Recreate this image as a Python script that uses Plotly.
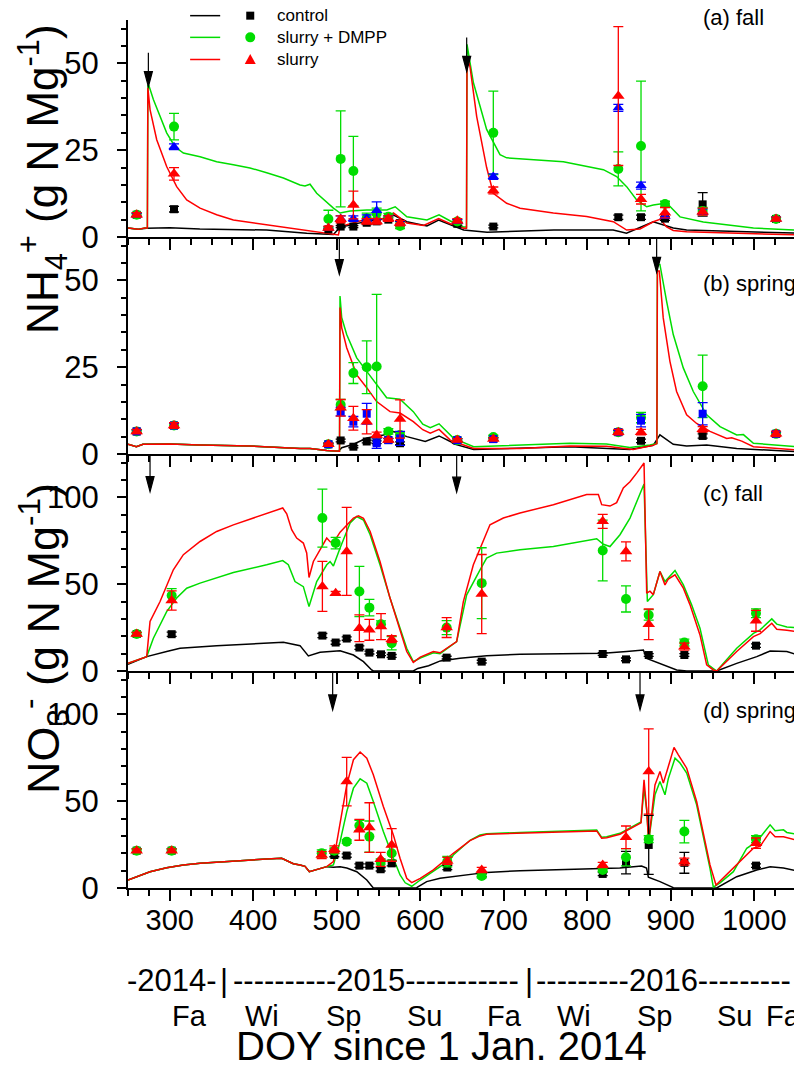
import plotly.graph_objects as go

FONT = "Liberation Sans, Arial, sans-serif"
GREEN = "#00dd00"
RED = "#ff0000"
BLUE = "#0000ff"
BLACK = "#000000"

# ---------------- Panel (a): NH4+ fall ----------------
a_ctrl_x = [250, 262, 272, 300, 336, 416, 464, 496, 504, 536, 556, 568, 584, 608, 622, 636, 652, 680, 760, 831, 847, 879, 903, 919, 1050]
a_ctrl_y = [2.6, 2.2, 2.5, 2.7, 2.3, 2.0, 1.1, 0.7, 2.8, 4.5, 5.3, 6.3, 4.4, 3.2, 4.9, 3.6, 2.0, 1.4, 2.0, 2.0, 1.1, 4.4, 2.6, 2.0, 1.1]

a_slu_x = [250, 262, 270, 273.2, 273.8, 276.4, 284.4, 296.3, 308.3, 320.3, 336.3, 356.2, 376.2, 416.1, 456, 472, 496, 502, 504, 532, 560, 568, 584, 604, 622, 636, 652, 655.4, 656, 659.6, 667.6, 679.5, 687.5, 703.5, 719.5, 759.4, 799.3, 831.2, 847.2, 863.2, 879.1, 887.1, 895.1, 903, 919, 1050]
a_slu_y = [2.6, 2.2, 2.6, 2.6, 43.0, 36.7, 28.0, 20.3, 14.5, 10.7, 8.3, 6.4, 4.9, 3.5, 2.0, 1.6, 0.6, 0.6, 3.0, 4.9, 5.3, 6.9, 4.0, 3.3, 5.3, 3.8, 2.5, 2.5, 52.0, 49.0, 34.7, 20.0, 12.6, 9.7, 8.3, 6.9, 5.9, 4.4, 2.0, 2.3, 4.4, 5.1, 2.9, 1.9, 1.5, 0.6]

a_dmpp_x = [250, 262, 270, 273.2, 273.8, 275, 280.4, 296.3, 306.3, 316.3, 336.3, 356.2, 376.2, 396.1, 416.1, 436.1, 456, 462, 468, 476, 496, 504, 516, 536, 560, 570, 584, 608, 622.5, 636, 651.6, 655.4, 656, 663.6, 679.5, 695.5, 703.5, 771.4, 819.3, 835.2, 847.2, 859.2, 871.2, 879.1, 895.1, 911.1, 939, 959, 983, 999, 1050]
a_dmpp_y = [2.6, 2.2, 2.6, 2.6, 43.6, 43.6, 39.6, 30.0, 26.0, 24.2, 23.1, 21.7, 20.8, 19.9, 18.5, 17.0, 15.0, 14.7, 15.2, 12.6, 8.3, 6.9, 7.5, 7.8, 7.8, 8.7, 5.8, 4.9, 6.4, 4.6, 2.9, 2.9, 55.5, 44.5, 31.0, 23.7, 22.8, 21.7, 19.4, 17.4, 14.5, 10.7, 8.7, 9.2, 9.8, 5.8, 4.3, 3.8, 3.1, 2.6, 2.0]

a_obs_x = [260.4, 305.1, 490, 504.7, 519.9, 535.9, 547.8, 561.8, 575.8, 644.4, 687.5, 837.2, 864.4, 893.1, 938.2, 1026.1]
a_obs_ctrl = [6.4, 8.0, 2.2, 3.0, 3.0, 4.1, 4.5, 5.0, 4.0, 3.8, 3.0, 5.7, 5.7, 5.3, 9.4, 5.2]
a_err_ctrl = [0.5, 0.8, 0.3, 0.3, 0.3, 0.5, 0.5, 0.5, 0.5, 0.4, 0.4, 0.6, 0.6, 0.5, 3.4, 0.4]
a_obs_dmpp = [6.4, 31.8, 5.2, 22.5, 19.0, 5.4, 6.8, 5.8, 3.2, 4.5, 30.0, 19.6, 26.2, 9.5, 7.5, 5.2]
a_err_dmpp = [0.5, 3.8, 2.5, 13.8, 10.0, 1.5, 1.5, 1.0, 0.8, 0.6, 12.0, 4.9, 18.7, 0.8, 1.0, 0.5]
a_obs_slu = [6.4, 18.2, 2.6, 5.1, 9.2, 4.5, 4.5, 5.3, 4.0, 4.7, 13.4, 40.6, 10.9, 7.0, 7.3, 5.2]
a_err_slu = [0.6, 1.8, 0.5, 1.0, 4.0, 0.8, 0.8, 0.8, 0.8, 0.6, 1.0, 20.0, 1.4, 1.5, 1.0, 0.5]
a_obs_blue = [6.4, 26.0, 2.6, 5.3, 5.3, 5.4, 7.6, 5.3, 4.0, 4.5, 17.4, 37.2, 14.8, 6.0, 7.3, 5.2]
a_err_blue = [0.5, 0.8, 0.4, 0.8, 0.8, 1.0, 2.5, 0.8, 0.6, 0.5, 0.8, 1.0, 1.0, 0.6, 0.8, 0.5]

# ---------------- Panel (b): NH4+ spring ----------------
b_ctrl_x = [250, 260, 268, 300, 336, 396, 456, 468, 488, 502, 506, 520, 536, 556, 568, 584, 606, 622.5, 636, 640, 664, 720, 779, 851, 879, 887, 903, 919, 943, 979, 999, 1050]
b_ctrl_y = [2.8, 2.1, 2.8, 2.9, 2.6, 2.3, 1.6, 1.6, 1.0, 0.8, 1.8, 2.8, 4.6, 5.5, 6.5, 5.0, 3.6, 5.2, 3.6, 2.9, 1.3, 1.6, 2.1, 1.3, 2.5, 5.5, 2.8, 2.3, 2.6, 1.6, 1.3, 0.7]

b_dmpp_x = [250, 260, 268, 300, 336, 396, 456, 468, 488, 503.3, 503.9, 505.9, 511.9, 523.9, 535.9, 547.8, 559.8, 575.8, 591.7, 603, 612, 622.5, 636, 640, 664, 720, 779, 823, 851, 875, 883.4, 884, 887, 895, 903, 915, 927, 943, 959, 979, 987, 999, 1050]
b_dmpp_y = [2.8, 2.1, 2.8, 2.9, 2.6, 2.3, 1.6, 1.6, 1.0, 0.8, 45.5, 39.3, 34.4, 27.7, 23.8, 20.0, 16.2, 15.8, 12.2, 8.6, 7.6, 8.7, 5.5, 4.5, 2.1, 2.6, 3.1, 2.9, 1.9, 2.6, 3.0, 54.6, 54.6, 44.0, 34.4, 24.8, 18.0, 11.3, 7.9, 5.5, 5.6, 3.1, 2.1]

b_slu_x = [250, 260, 268, 300, 336, 396, 456, 468, 488, 503.3, 503.9, 505.9, 511.9, 523.9, 535.9, 547.8, 563.8, 575.8, 591.7, 603, 612, 622.5, 636, 640, 664, 720, 779, 823, 855, 879, 883.4, 884, 886.3, 891, 899, 907, 919, 931, 947, 967, 973, 985, 999, 1050]
b_slu_y = [2.8, 2.1, 2.8, 2.9, 2.6, 2.3, 1.6, 1.6, 1.0, 0.8, 42.2, 36.4, 30.6, 22.8, 19.1, 15.1, 12.2, 11.8, 9.3, 7.0, 6.0, 7.1, 4.0, 3.6, 1.6, 1.6, 2.3, 2.2, 1.3, 2.5, 3.0, 52.7, 52.7, 39.2, 26.7, 18.0, 11.3, 8.8, 6.5, 4.5, 4.7, 3.7, 2.1, 1.2]

b_obs_x = [260.4, 305.1, 490, 504.7, 519.9, 535.9, 547.8, 561.8, 575.8, 644.4, 687.5, 837.2, 864.4, 938.2, 1026.1]
b_obs_ctrl = [6.5, 8.2, 2.8, 3.9, 2.1, 3.6, 3.4, 4.0, 3.1, 4.0, 4.3, 6.3, 3.8, 5.2, 5.8]
b_err_ctrl = [0.4, 0.6, 0.3, 0.4, 0.3, 0.4, 0.4, 0.4, 0.4, 0.4, 0.4, 0.5, 0.5, 0.6, 0.5]
b_obs_dmpp = [6.5, 8.2, 2.8, 14.2, 23.3, 25.0, 25.2, 6.5, 5.5, 4.0, 4.9, 6.3, 10.5, 19.5, 5.8]
b_err_dmpp = [0.5, 0.6, 0.3, 1.5, 3.0, 7.6, 20.8, 0.8, 0.8, 0.4, 0.5, 0.5, 1.5, 9.0, 0.5]
b_obs_slu = [6.5, 8.2, 2.8, 13.3, 10.3, 9.3, 5.5, 4.0, 10.1, 4.0, 4.3, 6.3, 6.3, 7.1, 5.8]
b_err_slu = [0.6, 0.8, 0.3, 2.4, 3.4, 3.5, 0.8, 0.5, 5.5, 0.4, 0.4, 0.8, 0.8, 0.8, 0.8]
b_obs_blue = [6.5, 8.2, 2.8, 12.2, 9.3, 11.6, 3.1, 4.0, 4.5, 4.0, 4.3, 6.3, 9.6, 11.6, 5.8]
b_err_blue = [0.5, 0.6, 0.3, 1.2, 1.5, 3.0, 1.5, 0.5, 2.0, 0.4, 0.4, 0.5, 1.8, 3.2, 0.6]

# ---------------- Panel (c): NO3- fall ----------------
c_ctrl_x = [250, 272.4, 296.3, 312.3, 356.2, 396.1, 436.1, 456, 466, 480, 496, 504, 520, 532, 541.8, 543.8, 591.7, 597, 610, 624, 647.6, 679.5, 719.5, 779.3, 819.3, 847.2, 867.2, 871.2, 887.1, 907.1, 919.1, 955, 979, 1003, 1019, 1039, 1050]
c_ctrl_y = [3.9, 8.3, 11.2, 13.1, 14.6, 15.6, 16.5, 14.6, 8.7, 10.8, 11.5, 11.7, 9.2, 5.4, 0.6, 0.0, 0.0, 1.5, 3.0, 5.8, 7.3, 8.8, 9.6, 9.8, 10.2, 11.2, 12.1, 7.3, 4.4, 0.6, 0.0, 0.0, 4.4, 8.3, 11.5, 11.2, 9.6]

c_slu_x = [250, 272.4, 276.4, 288.4, 304.3, 316.3, 336.3, 356.2, 376.2, 396.1, 416.1, 435.3, 440.1, 446, 452, 460, 464, 466.8, 472, 480, 488, 492, 496, 504, 520, 526, 532, 540, 551.8, 563.8, 575.8, 583.8, 591.7, 600, 615.7, 623.7, 643.6, 651.6, 663.6, 675.5, 683.5, 699.5, 719.5, 759.4, 799.3, 813.3, 817.3, 827.2, 835.2, 843.2, 851.2, 859.2, 868, 871.2, 875.1, 879.1, 887.1, 893.1, 897.1, 905.1, 915.1, 923.1, 935, 943, 951, 955, 979, 999, 1007, 1021, 1027, 1039, 1050]
c_slu_y = [4.4, 8.3, 28.5, 40.0, 58.3, 67.0, 74.6, 80.4, 84.2, 87.5, 90.4, 93.9, 90.5, 81.4, 76.6, 73.7, 68.0, 53.9, 63.1, 69.8, 76.6, 74.5, 74.0, 80.0, 88.1, 89.4, 88.0, 80.4, 63.1, 42.0, 22.7, 11.2, 5.0, 8.0, 11.2, 10.5, 16.9, 40.0, 61.2, 74.6, 84.2, 88.1, 91.0, 95.8, 101.6, 101.6, 95.8, 95.0, 97.0, 105.4, 109.0, 114.0, 119.8, 44.8, 46.0, 44.0, 57.3, 49.6, 53.0, 55.4, 47.7, 38.1, 20.8, 3.5, 0.6, 0.0, 11.2, 19.8, 21.5, 27.5, 24.0, 23.5, 22.7]

c_dmpp_x = [250, 272.4, 280.4, 296.3, 308.3, 320.3, 336.3, 376.2, 416.1, 435.3, 442, 450, 460, 466.8, 476, 488, 492, 496, 504, 516, 524, 532, 540, 551.8, 563.8, 575.8, 583.8, 591.7, 600, 615.7, 623.7, 643.6, 655.6, 671.6, 679.5, 691.5, 719.5, 759.4, 787.3, 811.3, 819.3, 827.2, 839.2, 851.2, 868, 872, 879.1, 887.1, 893.1, 905.1, 915.1, 925, 935, 945, 955, 979, 999, 1007, 1021, 1027, 1039, 1050]
c_dmpp_y = [4.4, 8.3, 18.9, 34.2, 42.0, 47.7, 50.6, 56.7, 61.2, 63.6, 61.2, 51.5, 48.6, 37.1, 51.5, 61.2, 63.0, 60.5, 70.8, 85.2, 89.0, 87.0, 78.5, 61.2, 42.0, 24.6, 13.1, 5.4, 7.5, 10.5, 10.0, 16.9, 43.9, 58.3, 65.0, 67.9, 69.8, 71.7, 74.2, 76.2, 73.0, 71.7, 78.5, 88.1, 107.7, 40.0, 44.0, 57.3, 51.5, 57.9, 49.6, 38.1, 24.6, 3.5, 0.0, 13.1, 21.7, 23.7, 30.0, 27.0, 25.3, 25.0]

c_obs_x = [260.4, 302.3, 482.8, 498.7, 511.9, 527.1, 539.1, 553.0, 565.8, 631.6, 673.6, 818.5, 846.4, 873.6, 916.3, 1002.1]
c_obs_ctrl = [21.3, 21.2, 20.4, 16.4, 18.7, 13.5, 10.6, 9.6, 8.7, 7.7, 5.4, 9.8, 6.7, 9.2, 9.2, 14.6]
c_err_ctrl = [1.0, 1.2, 1.2, 1.0, 1.0, 1.0, 0.8, 0.8, 0.8, 0.8, 0.8, 0.8, 0.8, 0.8, 0.8, 1.0]
c_obs_dmpp = [21.3, 43.5, 88.1, 73.7, None, 45.8, 36.5, 26.9, 16.0, 25.0, 50.6, 69.4, 41.5, 32.3, 16.4, 33.3]
c_err_dmpp = [1.0, 4.0, 16.7, 3.3, 0.0, 14.5, 4.8, 2.0, 3.8, 4.0, 20.4, 17.5, 7.5, 3.0, 2.0, 2.5]
c_obs_slu = [21.3, 40.6, 48.7, 44.8, 68.9, 24.6, 23.7, 25.6, 18.3, 25.0, 44.3, 86.2, 68.9, 26.9, 14.0, 28.9]
c_err_slu = [1.0, 5.5, 14.4, 1.0, 25.3, 7.7, 6.0, 7.5, 2.0, 5.7, 22.8, 4.0, 5.5, 8.8, 2.0, 6.0]

# ---------------- Panel (d): NO3- spring ----------------
d_ctrl_x = [250, 276.4, 296.3, 316.3, 336.3, 376.2, 416.1, 434.1, 442, 448, 456, 462, 467.2, 476, 488, 496, 504, 512, 524, 536, 543.8, 595.7, 607.7, 623.7, 647.6, 679.5, 719.5, 779.3, 815, 839, 865, 871, 873.2, 887.1, 903.1, 955, 979, 1003, 1019, 1035, 1050]
d_ctrl_y = [4.6, 9.4, 11.7, 13.3, 14.2, 15.6, 16.7, 17.1, 15.2, 14.0, 13.3, 12.5, 9.4, 10.8, 12.3, 11.9, 12.3, 11.5, 9.4, 4.6, 0.0, 0.2, 3.7, 5.6, 6.9, 9.0, 10.0, 10.8, 11.3, 11.5, 12.7, 11.5, 6.2, 3.7, 0.2, 0.0, 6.5, 10.4, 12.3, 11.5, 10.0]

d_slu_x = [250, 276.4, 296.3, 316.3, 336.3, 376.2, 416.1, 434.1, 442, 448, 456, 462, 467.2, 476, 488, 496, 504, 512, 520, 528, 536, 543.8, 555.8, 567.8, 575.8, 583.8, 589.8, 600, 615.7, 639.6, 659.6, 671.6, 679.5, 719.5, 759.4, 811.3, 817.3, 823.3, 839.2, 855.2, 864.4, 868, 871.2, 873.5, 881.1, 887.1, 891.1, 897.1, 903.9, 909.1, 919.1, 931, 939, 947, 954.2, 959, 979, 999, 1007, 1019, 1025, 1035, 1050]
d_slu_y = [4.6, 9.4, 11.7, 13.3, 14.2, 15.6, 16.7, 17.1, 15.2, 14.0, 13.3, 12.5, 9.4, 10.8, 12.3, 15.2, 36.4, 59.4, 73.9, 78.3, 74.8, 65.2, 46.9, 30.6, 17.1, 5.6, 3.1, 5.5, 10.4, 20.0, 27.3, 30.0, 31.0, 31.5, 32.1, 32.9, 28.7, 29.0, 31.0, 35.4, 37.5, 62.3, 45.0, 26.7, 59.4, 67.1, 60.4, 70.0, 81.0, 76.7, 69.0, 49.8, 32.5, 13.3, 1.7, 4.0, 13.3, 22.9, 24.0, 32.5, 29.5, 29.5, 27.7]

d_dmpp_x = [250, 276.4, 296.3, 316.3, 336.3, 376.2, 416.1, 434.1, 442, 448, 456, 462, 467.2, 476, 488, 496, 504, 512, 520, 528, 536, 543.8, 555.8, 567.8, 575.8, 582, 589.8, 600, 615.7, 635.7, 639.6, 659.6, 671.6, 679.5, 719.5, 759.4, 811.3, 817.3, 823.3, 839.2, 855.2, 864.4, 868, 871.2, 873.5, 881.1, 887.1, 893.1, 897.1, 905.1, 911.1, 919.1, 931, 939, 947, 951, 959, 975, 991, 1003, 1019, 1025, 1035, 1039, 1050]
d_dmpp_y = [4.6, 9.4, 11.7, 13.3, 14.2, 15.6, 16.7, 17.1, 15.2, 14.0, 13.3, 12.5, 9.4, 10.8, 12.3, 13.3, 26.7, 44.0, 57.5, 62.9, 60.4, 49.8, 32.5, 17.1, 7.5, 3.0, 1.0, 4.6, 9.5, 16.2, 19.0, 27.5, 30.5, 31.3, 32.0, 32.6, 33.4, 29.2, 29.5, 31.5, 35.8, 38.0, 57.5, 45.0, 26.7, 53.7, 61.3, 53.7, 63.0, 74.8, 72.0, 66.2, 47.9, 30.0, 11.3, 0.5, 3.0, 9.4, 22.9, 26.7, 36.4, 33.0, 33.5, 32.0, 31.0]

d_obs_x = [260.4, 302.3, 482.0, 497.1, 511.9, 527.1, 539.1, 552.6, 565.8, 632.4, 673.6, 818.5, 846.4, 873.6, 916.3, 1002.1]
d_obs_ctrl = [21.5, 21.5, None, 19.0, 18.7, 12.9, 12.9, 10.8, 14.2, 11.8, 7.5, 8.1, 14.6, 24.8, 14.5, 12.9]
d_err_ctrl = [1.0, 1.0, 0.0, 1.0, 1.0, 1.0, 1.0, 1.0, 1.5, 1.2, 1.0, 1.0, 6.5, 17.0, 6.0, 1.0]
d_obs_dmpp = [21.5, 21.5, 20.0, 21.5, 26.7, 36.0, 29.6, 15.2, 20.0, 15.2, 6.9, 10.4, 17.7, 28.1, 32.5, 28.1]
d_err_dmpp = [1.0, 1.0, 2.0, 1.5, 1.0, 3.0, 9.0, 1.5, 4.0, 3.0, 1.0, 1.0, 5.0, 2.0, 6.5, 2.0]
d_obs_slu = [21.5, 21.5, 19.0, 22.3, 61.3, 33.5, 34.8, 16.5, 24.8, 15.6, 10.4, 13.3, 29.2, 67.1, 15.2, 25.8]
d_err_slu = [1.0, 1.0, 2.0, 2.0, 14.0, 6.0, 14.3, 4.0, 9.4, 2.0, 1.5, 1.5, 6.5, 24.6, 2.0, 3.0]

# slurry application arrows: (DOY, tip value, shaft length px)
a_arrows = [(274.4, 43.3, 34), (655.6, 47.7, 34)]
b_arrows = [(503.1, 51.7, 37), (883.1, 52.3, 36)]
c_arrows = [(276.4, 103.3, 37), (643.6, 103.0, 37)]
d_arrows = [(495.1, 102.6, 39), (863.2, 102.6, 39)]

panel_titles = ["(a) fall", "(b) spring", "(c) fall", "(d) spring"]
legend_names = ["control", "slurry + DMPP", "slurry"]
season_labels = ["Fa", "Wi", "Sp", "Su", "Fa", "Wi", "Sp", "Su", "Fa"]
season_doy = [324, 410, 508, 605, 701, 784, 880, 976, 1035]
year_labels = ["-2014-", "|", "----------2015-----------", "|", "---------2016---------"]
year_doy = [303, 365, 547, 730, 891]

fig = go.Figure()

panels = [
    dict(n=1, lines=[(a_ctrl_x, a_ctrl_y, BLACK), (a_dmpp_x, a_dmpp_y, GREEN), (a_slu_x, a_slu_y, RED)],
         ox=a_obs_x, ctrl=(a_obs_ctrl, a_err_ctrl), dmpp=(a_obs_dmpp, a_err_dmpp), slu=(a_obs_slu, a_err_slu),
         blue=(a_obs_blue, a_err_blue, "triangle-up"), arrows=a_arrows),
    dict(n=2, lines=[(b_ctrl_x, b_ctrl_y, BLACK), (b_dmpp_x, b_dmpp_y, GREEN), (b_slu_x, b_slu_y, RED)],
         ox=b_obs_x, ctrl=(b_obs_ctrl, b_err_ctrl), dmpp=(b_obs_dmpp, b_err_dmpp), slu=(b_obs_slu, b_err_slu),
         blue=(b_obs_blue, b_err_blue, "square"), arrows=b_arrows),
    dict(n=3, lines=[(c_ctrl_x, c_ctrl_y, BLACK), (c_dmpp_x, c_dmpp_y, GREEN), (c_slu_x, c_slu_y, RED)],
         ox=c_obs_x, ctrl=(c_obs_ctrl, c_err_ctrl), dmpp=(c_obs_dmpp, c_err_dmpp), slu=(c_obs_slu, c_err_slu),
         blue=None, arrows=c_arrows),
    dict(n=4, lines=[(d_ctrl_x, d_ctrl_y, BLACK), (d_dmpp_x, d_dmpp_y, GREEN), (d_slu_x, d_slu_y, RED)],
         ox=d_obs_x, ctrl=(d_obs_ctrl, d_err_ctrl), dmpp=(d_obs_dmpp, d_err_dmpp), slu=(d_obs_slu, d_err_slu),
         blue=None, arrows=d_arrows),
]


def err(arr, color):
    return dict(type="data", array=arr, visible=True, color=color, thickness=1.3, width=5)


for p in panels:
    n = p["n"]
    xa = "x" if n == 1 else "x%d" % n
    ya = "y" if n == 1 else "y%d" % n
    for lx, ly, col in p["lines"]:
        fig.add_trace(go.Scatter(x=lx, y=ly, mode="lines", line=dict(color=col, width=1.5),
                                 xaxis=xa, yaxis=ya, showlegend=False, hoverinfo="skip"))
    vals, e = p["ctrl"]
    fig.add_trace(go.Scatter(x=p["ox"], y=vals, mode="markers", error_y=err(e, BLACK),
                             marker=dict(symbol="square", size=8, color=BLACK),
                             xaxis=xa, yaxis=ya, showlegend=False))
    vals, e = p["dmpp"]
    fig.add_trace(go.Scatter(x=p["ox"], y=vals, mode="markers", error_y=err(e, GREEN),
                             marker=dict(symbol="circle", size=10, color=GREEN),
                             xaxis=xa, yaxis=ya, showlegend=False))
    if p["blue"] is not None:
        vals, e, sym = p["blue"]
        fig.add_trace(go.Scatter(x=p["ox"], y=vals, mode="markers", error_y=err(e, BLUE),
                                 marker=dict(symbol=sym, size=10 if sym != "square" else 8, color=BLUE),
                                 xaxis=xa, yaxis=ya, showlegend=False))
    vals, e = p["slu"]
    fig.add_trace(go.Scatter(x=p["ox"], y=vals, mode="markers", error_y=err(e, RED),
                             marker=dict(symbol="triangle-up", size=11, color=RED),
                             xaxis=xa, yaxis=ya, showlegend=False))
    for (ax_doy, tip, ln) in p["arrows"]:
        fig.add_shape(type="path", xref=xa, yref=ya, xsizemode="pixel", ysizemode="pixel",
                      xanchor=ax_doy, yanchor=tip,
                      path="M0,%d L0,14 M-4,15 L0,0 L4,15 Z" % ln,
                      line=dict(color=BLACK, width=1.2), fillcolor=BLACK)

# ---------- axes ----------
xtickfont = dict(family=FONT, size=29, color=BLACK)
ytickfont = dict(family=FONT, size=31, color=BLACK)
domains = [[0.75, 1.0], [0.5, 0.75], [0.25, 0.5], [0.0, 0.25]]
yranges = [[0, 62.5], [0, 62.5], [0, 125], [0, 125]]
ydt = [(25, 5), (25, 5), (50, 10), (50, 10)]
layout = {}
for i in range(4):
    n = i + 1
    xk = "xaxis" if n == 1 else "xaxis%d" % n
    yk = "yaxis" if n == 1 else "yaxis%d" % n
    layout[xk] = dict(domain=[0, 1], range=[250, 1050], anchor="y" if n == 1 else "y%d" % n,
                      showline=True, linecolor=BLACK, linewidth=2, ticks="outside", ticklen=11,
                      tickwidth=1.5, tickcolor=BLACK, dtick=100, tick0=0,
                      minor=dict(dtick=25, ticklen=6, tickwidth=1.5, tickcolor=BLACK, ticks="outside"),
                      showgrid=False, zeroline=False, showticklabels=(n == 4), tickfont=xtickfont,
                      ticklabelstandoff=-6, automargin=False)
    layout[yk] = dict(domain=domains[i], range=yranges[i], anchor="x" if n == 1 else "x%d" % n,
                      showline=True, linecolor=BLACK, linewidth=2, ticks="outside", ticklen=9,
                      tickwidth=1.5, tickcolor=BLACK, dtick=ydt[i][0], tick0=0,
                      minor=dict(dtick=ydt[i][1], ticklen=5, tickwidth=1.5, tickcolor=BLACK, ticks="outside"),
                      showgrid=False, zeroline=False, tickfont=ytickfont, ticklabelstandoff=12,
                      automargin=False)
fig.update_layout(**layout)

# ---------- legend (line sample + separate marker) ----------
leg_rows = [1.005, 0.980, 0.9545]
leg_cols = [BLACK, GREEN, RED]
for k in range(3):
    fig.add_shape(type="line", xref="paper", yref="paper", x0=0.093, x1=0.138,
                  y0=leg_rows[k], y1=leg_rows[k], line=dict(color=leg_cols[k], width=1.5))
    fig.add_annotation(x=0.22, y=leg_rows[k], xref="paper", yref="paper", text=legend_names[k],
                       showarrow=False, xanchor="left", yanchor="middle",
                       font=dict(family=FONT, size=17, color=BLACK))
fig.add_shape(type="rect", xref="paper", yref="paper", xsizemode="pixel", ysizemode="pixel",
              xanchor=0.183, yanchor=leg_rows[0], x0=-4, x1=4, y0=-4, y1=4,
              line=dict(color=BLACK, width=0), fillcolor=BLACK)
fig.add_shape(type="circle", xref="paper", yref="paper", xsizemode="pixel", ysizemode="pixel",
              xanchor=0.183, yanchor=leg_rows[1], x0=-5, x1=5, y0=-5, y1=5,
              line=dict(color=GREEN, width=0), fillcolor=GREEN)
fig.add_shape(type="path", xref="paper", yref="paper", xsizemode="pixel", ysizemode="pixel",
              xanchor=0.183, yanchor=leg_rows[2], path="M-5.5,-4.5 L5.5,-4.5 L0,5.5 Z",
              line=dict(color=RED, width=0), fillcolor=RED)

# panel titles
title_y = [1.003, 0.697, 0.454, 0.205]
for i in range(4):
    fig.add_annotation(x=0.858, y=title_y[i], xref="paper", yref="paper", text=panel_titles[i],
                       showarrow=False, xanchor="left", yanchor="middle",
                       font=dict(family=FONT, size=22, color=BLACK))

# y-axis titles
fig.add_annotation(x=-0.127, y=0.816, xref="paper", yref="paper",
                   text="NH<sub>4</sub><sup>+</sup> (g N Mg<sup>-1</sup>)", textangle=-90,
                   showarrow=False, xanchor="center", yanchor="middle",
                   font=dict(family=FONT, size=44, color=BLACK))
fig.add_annotation(x=-0.127, y=0.287, xref="paper", yref="paper",
                   text="NO<sub>3</sub><sup>-</sup> (g N Mg<sup>-1</sup>)", textangle=-90,
                   showarrow=False, xanchor="center", yanchor="middle",
                   font=dict(family=FONT, size=45, color=BLACK))

# year row, season row and x title
for lab, d in zip(year_labels, year_doy):
    fig.add_annotation(x=d, y=-0.106, xref="x4", yref="paper", text=lab, showarrow=False,
                       xanchor="center", yanchor="middle", font=dict(family=FONT, size=31, color=BLACK))
for lab, d in zip(season_labels, season_doy):
    fig.add_annotation(x=d, y=-0.1475, xref="x4", yref="paper", text=lab, showarrow=False,
                       xanchor="center", yanchor="middle", font=dict(family=FONT, size=29, color=BLACK))
fig.add_annotation(x=0.47, y=-0.1815, xref="paper", yref="paper", text="DOY since 1 Jan. 2014",
                   showarrow=False, xanchor="center", yanchor="middle",
                   font=dict(family=FONT, size=40, color=BLACK))

fig.update_layout(template="none", width=794, height=1059,
                  margin=dict(l=120, r=6, t=12, b=179, autoexpand=False),
                  paper_bgcolor="white", plot_bgcolor="rgba(0,0,0,0)", showlegend=False,
                  font=dict(family=FONT, color=BLACK))

fig.write_html("out.html")
